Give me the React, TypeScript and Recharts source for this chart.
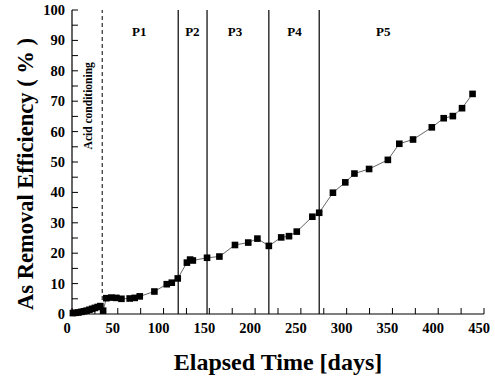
import React from "react";
import {
  ScatterChart,
  Scatter,
  XAxis,
  YAxis,
  ReferenceLine,
} from "recharts";

const days = [
  1, 4, 7, 10, 13, 16, 19, 22, 25, 28, 31, 34, 37.5, 43, 48.5, 54, 63, 68.5, 74, 90,
  103.5, 109, 115.5, 125.5, 129, 132, 147.5, 161, 178, 192.5, 202.5, 215, 228.5, 237,
  245.5, 262.5, 270, 285, 298.5, 308.5, 324.5, 345, 357.5, 372.5, 393, 406, 416, 426,
  437.5,
];
const efficiency = [
  0.3, 0.4, 0.5, 0.7, 0.9, 1.1, 1.4, 1.7, 2.0, 2.3, 2.6, 1.1, 5.2, 5.4, 5.3, 5.0, 5.1,
  5.3, 5.8, 7.4, 9.8, 10.3, 11.7, 16.9, 17.9, 17.6, 18.5, 18.9, 22.7, 23.5, 24.8, 22.4,
  25.2, 25.6, 27.1, 32.0, 33.3, 39.9, 43.3, 46.2, 47.7, 50.7, 56.0, 57.4, 61.4, 64.4,
  65.1, 67.7, 72.4,
];

const phaseBounds = [116, 147.5, 215, 270];
const acidDay = 33;
const phaseNames = ["P1", "P2", "P3", "P4", "P5"];
const phaseLabelDays = [73.5, 131.5, 178, 243, 340];
const phaseLabelY = 92.5;

const xTicks = [0, 25, 50, 75, 100, 125, 150, 175, 200, 225, 250, 275, 300, 325, 350, 375, 400, 425, 450];
const yTicks = [0, 5, 10, 15, 20, 25, 30, 35, 40, 45, 50, 55, 60, 65, 70, 75, 80, 85, 90, 95, 100];

const data = days.map((d, i) => ({ x: d, y: efficiency[i] }));
const labelData = [
  ...phaseNames.map((n, i) => ({ x: phaseLabelDays[i], y: phaseLabelY, text: n, rot: false })),
  { x: 19.5, y: 68.5, text: "Acid conditioning", rot: true },
];

const FONT = "'Liberation Serif', 'Times New Roman', serif";

const XTick = (props: any) => {
  const { x, y, payload } = props;
  const major = payload.value % 50 === 0;
  return (
    <g>
      <line x1={x} x2={x} y1={y} y2={y - 6} stroke="#000" strokeWidth={1} />
      {major && (
        <text x={x - 5} y={y + 19} textAnchor="middle" fontFamily={FONT} fontWeight="bold" fontSize={14.5} fill="#000">
          {payload.value}
        </text>
      )}
    </g>
  );
};

const YTick = (props: any) => {
  const { x, y, payload } = props;
  const major = payload.value % 10 === 0;
  return (
    <g>
      <line x1={x} x2={x + 6} y1={y} y2={y} stroke="#000" strokeWidth={1} />
      {major && (
        <text x={x - 7} y={y + 5} textAnchor="end" fontFamily={FONT} fontWeight="bold" fontSize={14.5} fill="#000">
          {payload.value}
        </text>
      )}
    </g>
  );
};

const YTitle = (props: any) => {
  const { viewBox } = props;
  const cx = viewBox.x + 25;
  const cy = viewBox.y + viewBox.height / 2 + 12;
  return (
    <text
      x={cx}
      y={cy}
      transform={`rotate(-90 ${cx} ${cy})`}
      textAnchor="middle"
      dominantBaseline="central"
      fontFamily={FONT}
      fontWeight="bold"
      fontSize={22.5}
      fill="#000"
    >
      As Removal Efficiency ( % )
    </text>
  );
};

const Square = (props: any) => {
  const { cx, cy } = props;
  return <rect x={cx - 3.3} y={cy - 3.3} width={6.6} height={6.6} fill="#000" />;
};

const LabelShape = (props: any) => {
  const { cx, cy, payload } = props;
  if (payload.rot) {
    return (
      <text
        x={cx}
        y={cy}
        transform={`rotate(-90 ${cx} ${cy})`}
        textAnchor="middle"
        dominantBaseline="middle"
        fontFamily={FONT}
        fontWeight="bold"
        fontSize={11.5}
        fill="#000"
      >
        {payload.text}
      </text>
    );
  }
  return (
    <text x={cx} y={cy} textAnchor="middle" dominantBaseline="middle" fontFamily={FONT} fontWeight="bold" fontSize={13} fill="#000">
      {payload.text}
    </text>
  );
};

export default function App() {
  return (
    <div style={{ position: "absolute", left: 0, top: 0, background: "#fff" }}>
      <ScatterChart width={495} height={378} margin={{ top: 10, right: 11, left: 0, bottom: 0 }}>
        <XAxis
          dataKey="x"
          type="number"
          domain={[0, 450]}
          ticks={xTicks}
          interval={0}
          tick={<XTick />}
          tickLine={false}
          tickSize={0}
          tickMargin={0}
          axisLine={{ stroke: "#000", strokeWidth: 1.2 }}
          height={64}
          label={{
            value: "Elapsed Time [days]",
            position: "insideBottom",
            offset: 8,
            fontFamily: FONT,
            fontWeight: "bold",
            fontSize: 24,
            fill: "#000",
          }}
        />
        <XAxis xAxisId="top" orientation="top" type="number" domain={[0, 450]} tick={false} tickLine={false} height={0} axisLine={{ stroke: "#000", strokeWidth: 1.2 }} />
        <YAxis
          dataKey="y"
          type="number"
          domain={[0, 100]}
          ticks={yTicks}
          interval={0}
          tick={<YTick />}
          tickLine={false}
          tickSize={0}
          tickMargin={0}
          width={72}
          axisLine={{ stroke: "#000", strokeWidth: 1.2 }}
          label={<YTitle />}
        />
        <YAxis yAxisId="right" orientation="right" type="number" domain={[0, 100]} tick={false} tickLine={false} width={0} axisLine={{ stroke: "#000", strokeWidth: 1.2 }} />
        {phaseBounds.map((b) => (
          <ReferenceLine key={b} x={b} stroke="#000" strokeWidth={1.2} />
        ))}
        <ReferenceLine x={acidDay} stroke="#000" strokeWidth={1} strokeDasharray="4 3" />
        <Scatter
          data={data}
          shape={<Square />}
          line={{ stroke: "#666", strokeWidth: 1 }}
          isAnimationActive={false}
        />
        <Scatter data={labelData} shape={<LabelShape />} isAnimationActive={false} />
      </ScatterChart>
    </div>
  );
}
